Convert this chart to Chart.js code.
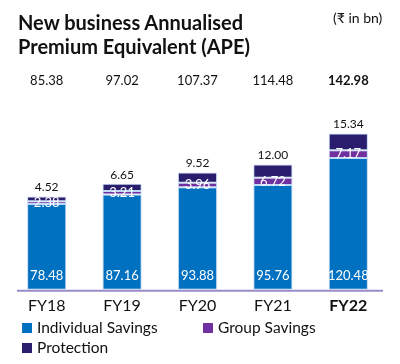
<!DOCTYPE html>
<html>
<head>
<meta charset="utf-8">
<script src="https://cdn.jsdelivr.net/npm/chart.js@4.4.0/dist/chart.umd.min.js"></script>
<style>
  html, body { margin: 0; padding: 0; background: #fff; }
  #wrap { position: relative; width: 400px; height: 364px; font-family: Lato, "Noto Sans", sans-serif; color: #111; }
  #title { position: absolute; left: 18px; top: 10px; font-size: 20px; font-weight: bold; line-height: 24px; }
  #unit { position: absolute; left: 333px; top: 9px; font-size: 14px; }
  #chart { position: absolute; left: 0; top: 0; }
  #legend { position: absolute; left: 22px; top: 317px; font-size: 15.5px; width: 370px; }
  .item { display: inline-block; height: 20px; line-height: 20px; }
  .item span.box { display: inline-block; width: 10px; height: 10px; margin-right: 5px; vertical-align: 0px; }
</style>
</head>
<body>
<div id="wrap">
  <canvas id="chart" width="400" height="364"></canvas>
  <div id="title">New business Annualised<br>Premium Equivalent (APE)</div>
  <div id="unit">(₹ in bn)</div>
  <div id="legend"></div>
</div>
<script>
const categories = ["FY18", "FY19", "FY20", "FY21", "FY22"];
const individualSavings = [78.48, 87.16, 93.88, 95.76, 120.48];
const groupSavings = [2.38, 3.21, 3.96, 6.72, 7.17];
const protection = [4.52, 6.65, 9.52, 12.00, 15.34];
const totals = [85.38, 97.02, 107.37, 114.48, 142.98];

const colors = ["#0070c0", "#7030a0", "#2b1d6e"];
const seriesNames = ["Individual Savings", "Group Savings", "Protection"];

// labels drawn on top of the bars
const labelPlugin = {
    id: "labels",
    afterDatasetsDraw(chart) {
        const ctx = chart.ctx;
        const x = chart.scales.x;
        const y = chart.scales.y;
        ctx.save();
        ctx.textAlign = "center";
        ctx.textBaseline = "middle";

        // baseline
        ctx.strokeStyle = "#9a8cc8";
        ctx.lineWidth = 2;
        ctx.beginPath();
        ctx.moveTo(17, y.getPixelForValue(0) + 1);
        ctx.lineTo(383, y.getPixelForValue(0) + 1);
        ctx.stroke();

        categories.forEach((c, i) => {
            const cx = x.getPixelForValue(i);
            const last = i === categories.length - 1;

            ctx.fillStyle = "#fff";
            ctx.font = "13px Lato";
            ctx.fillText(individualSavings[i].toFixed(2), cx, y.getPixelForValue(0) - 14);

            const g = y.getPixelForValue(individualSavings[i] + groupSavings[i] / 2);
            ctx.fillText(groupSavings[i].toFixed(2), cx, g);

            ctx.fillStyle = "#111";
            ctx.font = "12px Lato";
            ctx.fillText(protection[i].toFixed(2), cx, y.getPixelForValue(totals[i]) - 9);

            ctx.font = (last ? "bold " : "") + "13px Lato";
            ctx.fillText(totals[i].toFixed(2), cx, 81);
        });
        ctx.restore();
    }
};

const datasets = [individualSavings, groupSavings, protection].map((d, i) => ({
    label: seriesNames[i],
    data: d,
    backgroundColor: colors[i],
    borderColor: "rgba(150,190,235,0.6)",
    borderWidth: 1,
    borderSkipped: false,
    categoryPercentage: 1,
    barPercentage: 0.52
}));

new Chart(document.getElementById("chart"), {
    type: "bar",
    data: { labels: categories, datasets: datasets },
    plugins: [labelPlugin],
    options: {
        responsive: false,
        animation: false,
        layout: { padding: { left: 9, right: 14, top: 117, bottom: 51 } },
        plugins: { legend: { display: false }, tooltip: { enabled: false } },
        scales: {
            x: {
                stacked: true,
                grid: { display: false },
                border: { display: false },
                ticks: {
                    color: "#111",
                    padding: -2,
                    font: ctx => ({ family: "Lato", size: 16, weight: ctx.index === 4 ? "bold" : "normal" })
                }
            },
            y: {
                stacked: true,
                display: false,
                min: 0,
                max: 158
            }
        }
    }
});

// legend as html
const legend = document.getElementById("legend");
seriesNames.forEach((n, i) => {
    const el = document.createElement("div");
    el.className = "item";
    el.style.width = i === 0 ? "181px" : "160px";
    el.innerHTML = '<span class="box" style="background:' + colors[i] + '"></span>' + n;
    legend.appendChild(el);
    if (i === 1) legend.appendChild(document.createElement("br"));
});
</script>
</body>
</html>
